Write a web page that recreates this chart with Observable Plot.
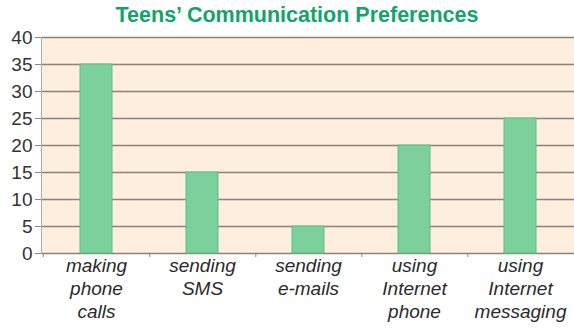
<!DOCTYPE html>
<html>
<head>
<meta charset="utf-8">
<script src="https://cdn.jsdelivr.net/npm/d3@7"></script>
<script src="https://cdn.jsdelivr.net/npm/@observablehq/plot@0.6"></script>
<style>
  html, body { margin: 0; padding: 0; background: #fff; }
  #wrap { position: relative; width: 574px; height: 331px; overflow: hidden; }
  #title { position: absolute; top: 3px; left: 10px; width: 574px; text-align: center;
    font-family: "Liberation Sans", Arial, sans-serif; font-weight: bold; font-size: 21.5px;
    color: #12a46b; z-index: 2; white-space: nowrap; }
  svg { position: absolute; top: 0; left: 0; }
</style>
</head>
<body>
<div id="wrap">
  <div id="title">Teens’ Communication Preferences</div>
</div>
<script>
const categories = ["making phone calls", "sending SMS", "sending e-mails", "using Internet phone", "using Internet messaging"];
const tickLabels = ["making\nphone\ncalls", "sending\nSMS", "sending\ne-mails", "using\nInternet\nphone", "using\nInternet\nmessaging"];
const values = [35, 15, 5, 20, 25];
const yTicks = [0, 5, 10, 15, 20, 25, 30, 35, 40];

const data = categories.map((c, i) => ({category: c, value: values[i]}));
const labelOf = new Map(categories.map((c, i) => [c, tickLabels[i]]));

const W = 574, H = 331;
const mL = 41, mR = 0, mT = 37, mB = 78;
const band = (W - mL - mR) / categories.length;

const chart = Plot.plot({
  width: W,
  height: H,
  marginLeft: mL,
  marginRight: mR,
  marginTop: mT,
  marginBottom: mB,
  style: {fontFamily: "Liberation Sans, Arial, sans-serif", background: "transparent", overflow: "visible"},
  x: {domain: categories, padding: 0},
  y: {domain: [0, 40]},
  marks: [
    Plot.frame({fill: "#fdeedd", stroke: null}),
    Plot.ruleY(yTicks, {stroke: "#8a847e", strokeWidth: 1.5}),
    Plot.barY(data, {x: "category", y: "value", fill: "#7bd09c", stroke: "#5dbd84", strokeWidth: 1, insetLeft: 37, insetRight: 37}),
    Plot.frame({anchor: "left", stroke: "#b5aea6"}),
    Plot.axisY({ticks: yTicks, tickSize: 6, tickPadding: 3, fontSize: 19, color: "#333", stroke: "#8a847e", label: null}),
    Plot.axisX({tickSize: 0, tickPadding: 2, fontSize: 19, fontStyle: "italic", fill: "#2a2a2a",
      tickFormat: d => labelOf.get(d), lineHeight: 1.22, label: null}),
    Plot.axisX({ticks: categories.slice(0, 4), tickSize: 4, tickFormat: null, dx: band / 2, stroke: "#8a847e", label: null}),
    Plot.axisX({ticks: categories.slice(0, 1), tickSize: 4, tickFormat: null, dx: -band / 2, stroke: "#8a847e", label: null})
  ]
});

document.getElementById("wrap").appendChild(chart);
</script>
</body>
</html>
